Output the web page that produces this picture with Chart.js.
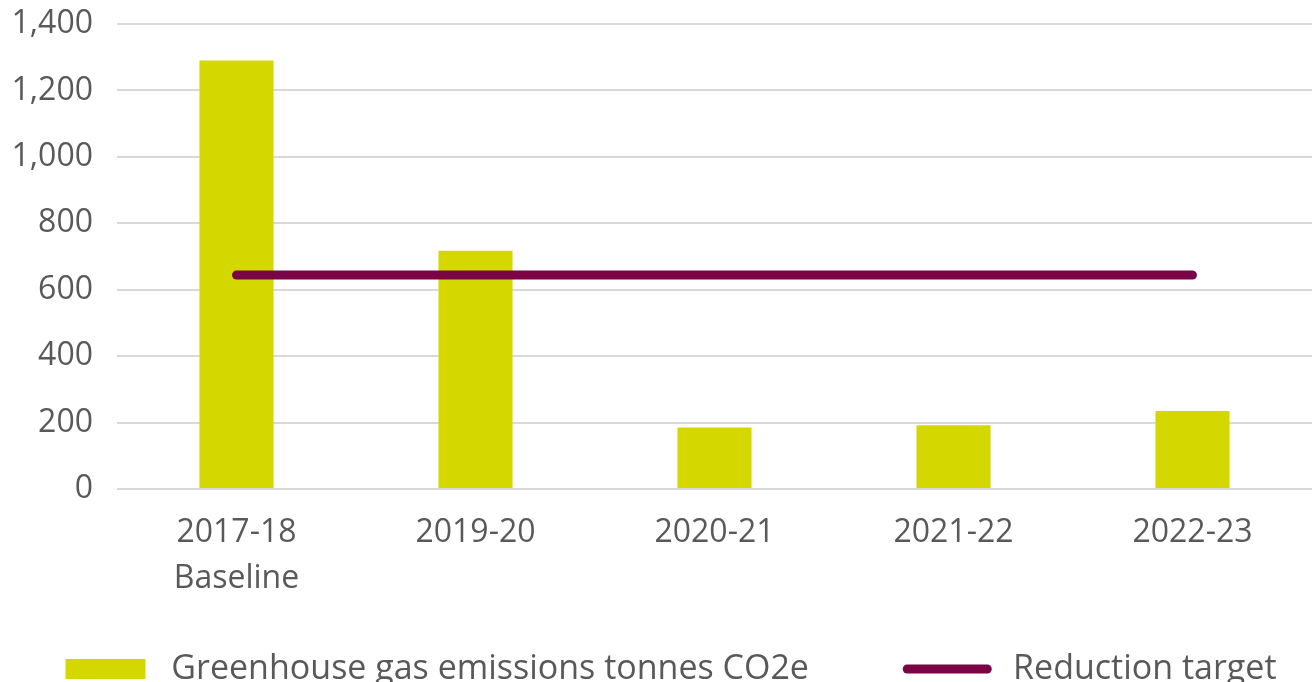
<!DOCTYPE html>
<html>
<head>
<meta charset="utf-8">
<script src="https://cdn.jsdelivr.net/npm/chart.js@4/dist/chart.umd.min.js"></script>
<style>
  html, body { margin: 0; padding: 0; background: #ffffff; overflow: hidden; }
  #wrap { position: absolute; left: 0; top: 0; width: 1312px; height: 696px; }
</style>
</head>
<body>
<div id="wrap"><canvas id="c" width="1312" height="696"></canvas></div>
<script>
const categories = [["2017-18", "Baseline"], "2019-20", "2020-21", "2021-22", "2022-23"];
const emissions = [1290, 717, 185, 192, 235];
const reductionTarget = [644, 644, 644, 644, 644];
const yTicks = [0, 200, 400, 600, 800, 1000, 1200, 1400];
const seriesNames = ["Greenhouse gas emissions tonnes CO2e", "Reduction target"];

const barColor = "#D4D800";
const lineColor = "#7A0446";
const textColor = "#595959";
const fontFamily = "'Open Sans', 'DejaVu Sans', sans-serif";

const legendShift = {
  id: "legendShift",
  beforeDraw(chart) {
    if (chart.legend) {
      chart.legend.left = 30;
      chart.legend.right = 1312;
    }
  }
};

new Chart(document.getElementById("c"), {
  type: "bar",
  data: {
    labels: categories,
    datasets: [
      {
        label: seriesNames[0],
        data: emissions,
        backgroundColor: barColor,
        borderWidth: 0,
        categoryPercentage: 1,
        barPercentage: 0.31,
        order: 2
      },
      {
        type: "line",
        label: seriesNames[1],
        data: reductionTarget,
        borderColor: lineColor,
        backgroundColor: lineColor,
        borderWidth: 9,
        borderCapStyle: "round",
        pointRadius: 0,
        pointHoverRadius: 0,
        fill: false,
        order: 1
      }
    ]
  },
  plugins: [legendShift],
  options: {
    responsive: false,
    animation: false,
    layout: { padding: { top: 24, right: 0, bottom: 0, left: 0 } },
    plugins: {
      tooltip: { enabled: false },
      legend: {
        position: "bottom",
        labels: {
          color: textColor,
          font: { family: fontFamily, size: 34 },
          usePointStyle: true,
          pointStyleWidth: 80,
          boxHeight: 20,
          padding: 10,
          generateLabels(chart) {
            const items = Chart.defaults.plugins.legend.labels.generateLabels(chart);
            items.forEach(it => {
              if (it.datasetIndex === 0) {
                it.pointStyle = "rect";
                it.fillStyle = barColor;
                it.strokeStyle = barColor;
                it.lineWidth = 0;
                it.text = " " + it.text + "          ";
              } else {
                it.pointStyle = "line";
                it.fillStyle = lineColor;
                it.strokeStyle = lineColor;
                it.lineWidth = 9;
                it.lineCap = "round";
                it.text = " " + it.text;
              }
            });
            return items.sort((a, b) => a.datasetIndex - b.datasetIndex);
          }
        }
      }
    },
    scales: {
      x: {
        grid: { display: false, drawTicks: false },
        border: { display: false },
        ticks: {
          color: textColor,
          font: { family: fontFamily, size: 32, lineHeight: 1.44 },
          padding: 21,
          maxRotation: 0,
          autoSkip: false
        },
        afterFit(scale) { scale.height = 153; }
      },
      y: {
        min: 0,
        max: 1400,
        afterBuildTicks(scale) { scale.ticks = yTicks.map(v => ({ value: v })); },
        grid: { color: "#D9D9D9", lineWidth: 2, drawTicks: false },
        border: { display: false },
        ticks: {
          color: textColor,
          font: { family: fontFamily, size: 32 },
          padding: 24,
          callback: v => v.toLocaleString("en-US")
        },
        afterFit(scale) {
          scale.width = 117;
          scale.paddingTop = 0;
          scale.paddingBottom = 0;
        }
      }
    }
  }
});
</script>
</body>
</html>
